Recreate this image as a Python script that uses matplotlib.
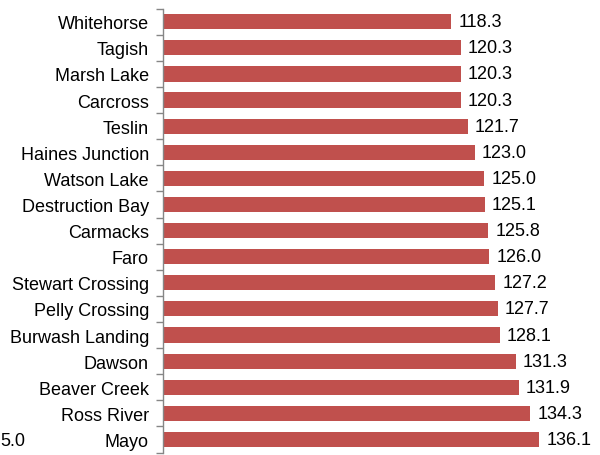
import numpy as np
import matplotlib.pyplot as plt

plt.rcParams['font.family'] = ['Liberation Sans', 'DejaVu Sans']

# Data (top to bottom as shown)
places = ['Whitehorse', 'Tagish', 'Marsh Lake', 'Carcross', 'Teslin',
          'Haines Junction', 'Watson Lake', 'Destruction Bay', 'Carmacks',
          'Faro', 'Stewart Crossing', 'Pelly Crossing', 'Burwash Landing',
          'Dawson', 'Beaver Creek', 'Ross River', 'Mayo']
values = [118.3, 120.3, 120.3, 120.3, 121.7, 123.0, 125.0, 125.1, 125.8,
          126.0, 127.2, 127.7, 128.1, 131.3, 131.9, 134.3, 136.1]

fig = plt.figure(figsize=(6.0, 4.56), dpi=100)
# axes extends past the right edge of the figure (cropped chart)
ax = fig.add_axes([162.7 / 600, 2.5 / 456, 495 / 600, 443.8 / 456])

y = np.arange(len(places))
ax.barh(y, values, height=0.58, color='#C0504D')
ax.set_xlim(60, 160)
ax.set_ylim(len(places) - 0.5, -0.5)

for yi, v in zip(y, values):
    ax.text(v + 1.4, yi, f'{v:.1f}', va='center', ha='left', fontsize=13)

ax.set_yticks(y)
ax.set_yticklabels(places, fontsize=13)
ax.set_yticks(np.arange(-0.5, len(places), 1), minor=True)
ax.tick_params(axis='y', which='major', length=0, pad=9.9)
ax.tick_params(axis='y', which='minor', length=5, color='#868686', width=1)
ax.set_xticks([])
for s in ['top', 'right', 'bottom']:
    ax.spines[s].set_visible(False)
ax.spines['left'].set_color('#868686')
ax.spines['left'].set_linewidth(1)

# leftover fragment from a neighbouring chart at the left edge
fig.text(0.0, 1 - 442 / 456, '5.0', fontsize=13, va='center', ha='left')

fig.savefig('out.png', dpi=100)
